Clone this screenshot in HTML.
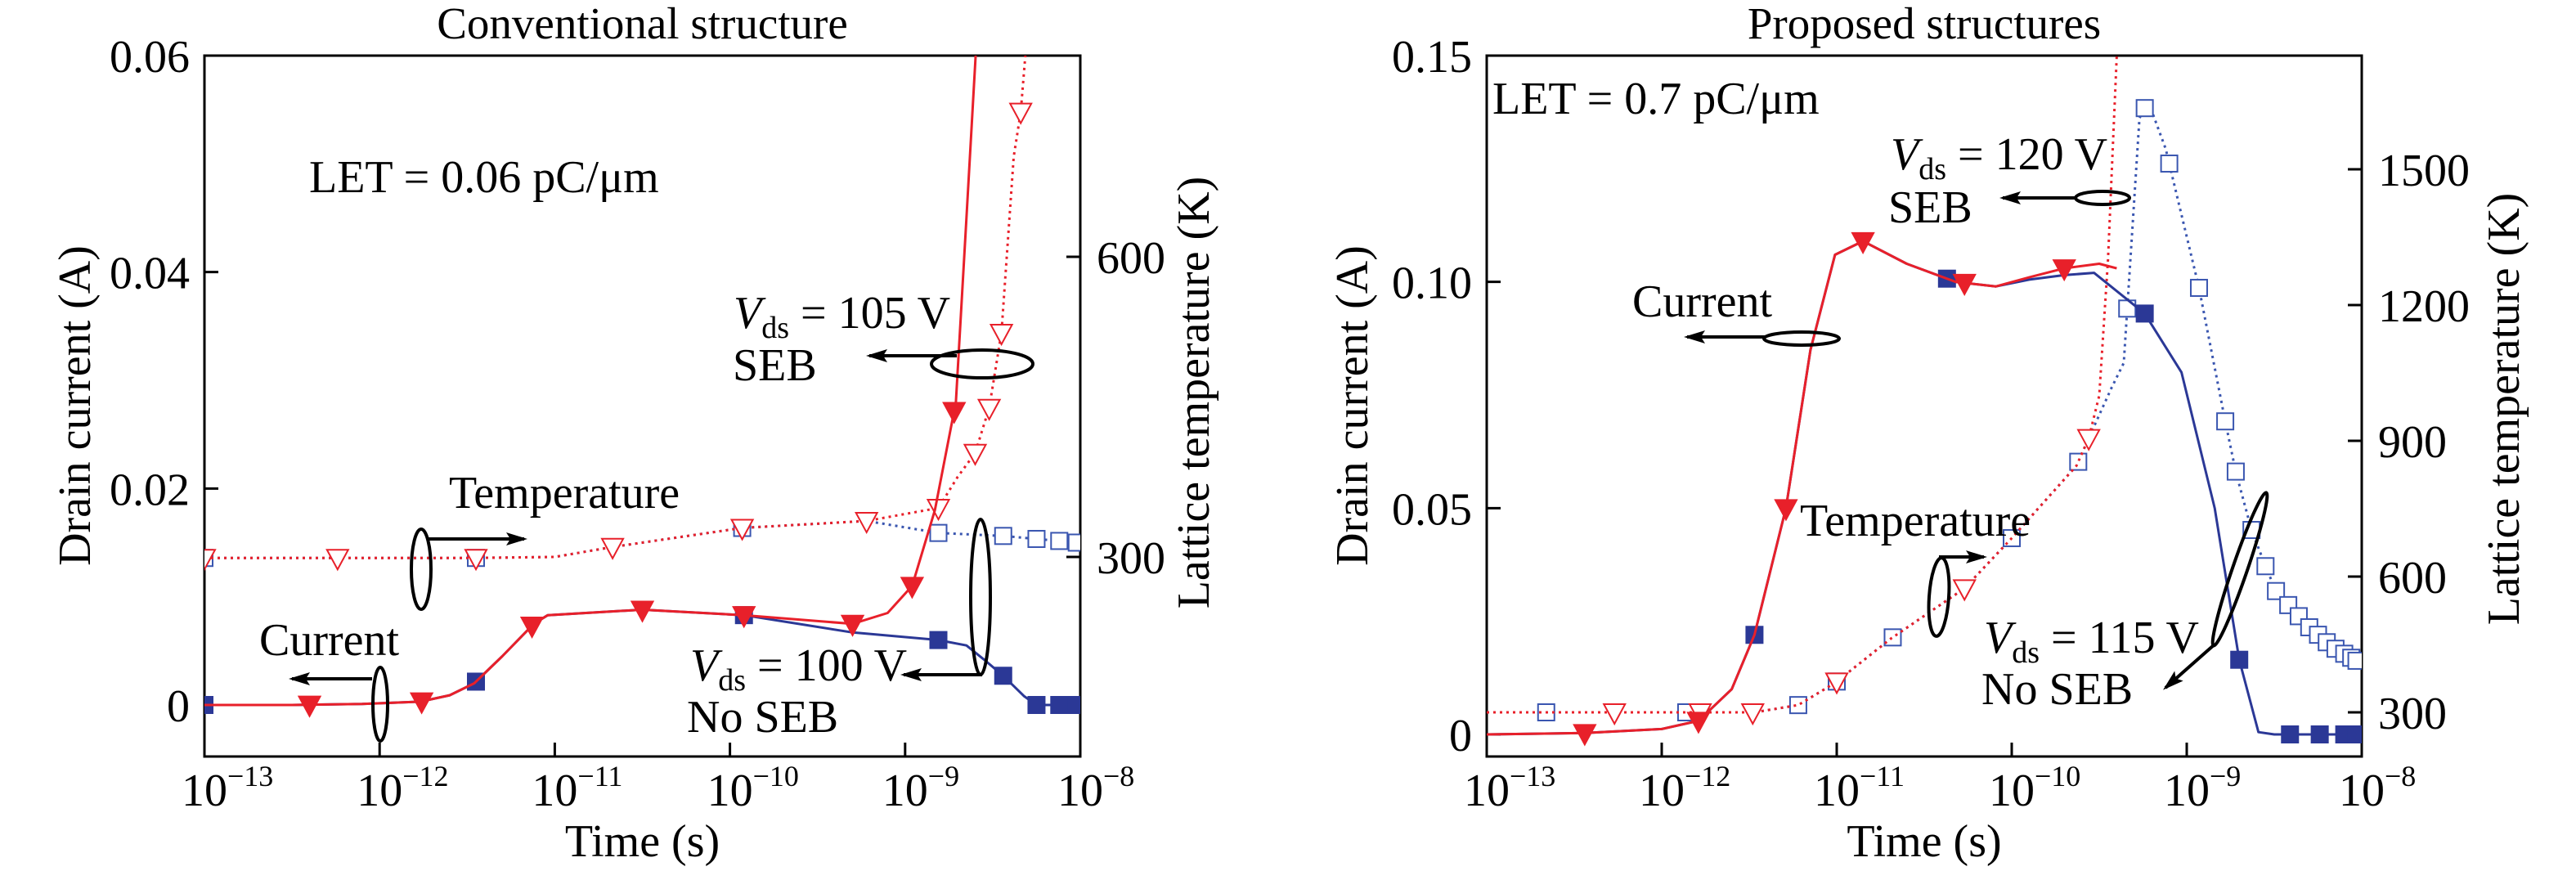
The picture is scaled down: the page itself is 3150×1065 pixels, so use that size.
<!DOCTYPE html>
<html><head><meta charset="utf-8">
<style>
html,body{margin:0;padding:0;background:#fff;}
svg{display:block;font-family:"Liberation Serif",serif;}
</style></head>
<body>
<svg id="chart" width="3150" height="1065" viewBox="0 0 3150 1065" xmlns="http://www.w3.org/2000/svg">
<defs>
<clipPath id="clipL"><rect x="250" y="68" width="1071" height="857"/></clipPath>
<clipPath id="clipR"><rect x="1818" y="68" width="1070" height="857"/></clipPath>
<marker id="ah" markerWidth="26" markerHeight="16" refX="22" refY="8" orient="auto" markerUnits="userSpaceOnUse"><path d="M0,0 L26,8 L0,16 L5,8 Z" fill="#000"/></marker>
</defs>
<g id="root"></g>
</svg>
<script>
// ---------- Left panel data (log10 time, current A / temperature K) ----------
const leftSebCurT = [-13,-12.5,-12.1,-11.77,-11.6,-11.46,-11.3,-11.12,-11.04,-10.5,-9.92,-9.3,-9.1,-8.96,-8.83,-8.71,-8.65,-8.58];
const leftSebCurV = [0,0,0.0001,0.0003,0.0009,0.002,0.0045,0.0075,0.0083,0.0088,0.0083,0.0075,0.0085,0.011,0.018,0.028,0.045,0.065];
const leftSebCurMk = [-12.4,-11.76,-11.13,-10.5,-9.92,-9.3,-8.96,-8.72];
const leftNoCurT = [-13,-12.5,-12.1,-11.77,-11.6,-11.46,-11.3,-11.12,-11.04,-10.5,-9.92,-9.3,-8.81,-8.65,-8.55,-8.44,-8.32,-8.25,-8];
const leftNoCurV = [0,0,0.0001,0.0003,0.0009,0.002,0.0045,0.0075,0.0083,0.0088,0.0083,0.0067,0.006,0.0055,0.0042,0.0027,0.0008,0,0];
const leftNoCurMk = [-13,-11.45,-9.92,-8.81,-8.44,-8.25,-8.12,-8.03];
const leftSebTmpT = [-13,-11.46,-11,-10.67,-9.93,-9.22,-8.81,-8.7,-8.6,-8.52,-8.45,-8.38,-8.34,-8.3];
const leftSebTmpK = [299,299,300,310,329,336,349,380,404,449,524,700,745,830];
const leftSebTmpMk = [-13,-12.24,-11.45,-10.67,-9.93,-9.22,-8.81,-8.6,-8.52,-8.45,-8.34];
const leftNoTmpT = [-13,-11.46,-11,-10.67,-9.93,-9.22,-8.81,-8.44,-8.25,-8.12,-8];
const leftNoTmpK = [299,299,300,310,329,336,324,321,318,316,314];
const leftNoTmpMk = [-13,-11.45,-9.93,-8.81,-8.44,-8.25,-8.12,-8.02];
// ---------- Right panel data ----------
const rightSebCurT = [-13,-12.44,-12.0,-11.79,-11.6,-11.47,-11.29,-11.15,-11.01,-10.85,-10.6,-10.32,-10.09,-9.9,-9.7,-9.5,-9.4];
const rightSebCurV = [0,0.0003,0.0012,0.003,0.01,0.022,0.05,0.085,0.106,0.109,0.104,0.1,0.099,0.101,0.103,0.104,0.103];
const rightSebCurMk = [-12.44,-11.79,-11.29,-10.85,-10.27,-9.7];
const rightNoCurT = [-13,-12.44,-12.0,-11.79,-11.6,-11.47,-11.29,-11.15,-11.01,-10.85,-10.6,-10.32,-10.09,-9.9,-9.7,-9.53,-9.24,-9.03,-8.84,-8.7,-8.59,-8.5,-8];
const rightNoCurV = [0,0.0003,0.0012,0.003,0.01,0.022,0.05,0.085,0.106,0.109,0.104,0.1,0.099,0.1005,0.1015,0.102,0.093,0.08,0.05,0.0165,0.0005,0,0];
const rightNoCurMk = [-11.47,-10.37,-9.24,-8.7,-8.41,-8.24,-8.1,-8.03];
const rightSebTmpT = [-13,-11.47,-11.22,-11.01,-10.69,-10.27,-10.0,-9.63,-9.56,-9.5,-9.45,-9.4];
const rightSebTmpK = [300,300,316,365,463,574,685,845,906,1000,1300,1750];
const rightSebTmpMk = [-12.27,-11.78,-11.48,-11.0,-10.27,-9.56];
const rightNoTmpT = [-13,-11.47,-11.22,-11.01,-10.69,-10.27,-10.0,-9.63,-9.56,-9.43,-9.36,-9.27,-9.22,-9.12,-8.93,-8.78,-8.72,-8.63,-8.55,-8.49,-8.42,-8.3,-8.17,-8.03];
const rightNoTmpK = [300,300,316,365,463,574,685,845,906,1017,1072,1613,1650,1545,1238,943,832,703,623,568,537,488,445,414];
const rightNoTmpMk = [-12.66,-11.86,-11.22,-11.0,-10.68,-10.0,-9.62,-9.34,-9.24,-9.1,-8.93,-8.78,-8.72,-8.63,-8.55,-8.49,-8.42,-8.36,-8.3,-8.25,-8.2,-8.15,-8.1,-8.06,-8.03];
// tick labels
const xTickExp = [-13,-12,-11,-10,-9,-8];
const leftCurTicks = [0,0.02,0.04,0.06];
const leftCurLabels = ["0","0.02","0.04","0.06"];
const leftTmpTicks = [300,600];
const rightCurTicks = [0,0.05,0.10,0.15];
const rightCurLabels = ["0","0.05","0.10","0.15"];
const rightTmpTicks = [300,600,900,1200,1500];

const NS="http://www.w3.org/2000/svg";
const FS=56;
const root=document.getElementById('root');
function mk(tag,attrs,parent){const e=document.createElementNS(NS,tag);for(const k in attrs)e.setAttribute(k,attrs[k]);(parent||root).appendChild(e);return e;}
function interp(T,V,t){for(let i=0;i<T.length-1;i++){if(t>=T[i]&&t<=T[i+1]){const f=(t-T[i])/(T[i+1]-T[i]);return V[i]+f*(V[i+1]-V[i]);}}return t<T[0]?V[0]:V[V.length-1];}

function panel(P){
  const x=t=>P.x0+(t+13)/5*(P.x1-P.x0);
  const yc=v=>P.yc0-v*P.ycs;
  const yt=k=>P.yt0-(k-300)*P.yts;
  const g=mk('g',{});
  
  
  const fr=mk('rect',{x:P.x0,y:68,width:P.x1-P.x0,height:857,fill:'none',stroke:'#000','stroke-width':3},g);
  
  
  xTickExp.forEach(e=>{
    const tx=x(e);
    if(e>-13&&e<-8){const l=mk('line',{x1:tx,y1:925,x2:tx,y2:908,stroke:'#000','stroke-width':3},g);
      
      }
    const tt=mk('text',{x:tx-28,y:985,'font-size':FS},g);
    
    
    tt.textContent='10';
    const sp=mk('tspan',{dy:-24,'font-size':36},tt);sp.textContent='\u2212'+(-e);
  });
  P.curTicks.forEach((v,i)=>{
    const ty=yc(v);
    const l=mk('line',{x1:P.x0,y1:ty,x2:P.x0+17,y2:ty,stroke:'#000','stroke-width':3},g);
    
    
    const t=mk('text',{x:P.x0-18,y:ty+20,'font-size':FS,'text-anchor':'end'},g);
    
    
    t.textContent=P.curLabels[i];
  });
  P.tmpTicks.forEach(k=>{
    const ty=yt(k);
    const l=mk('line',{x1:P.x1,y1:ty,x2:P.x1-17,y2:ty,stroke:'#000','stroke-width':3},g);
    
    
    const t=mk('text',{x:P.x1+20,y:ty+20,'font-size':FS},g);
    
    
    t.textContent=String(k);
  });
  const ti=mk('text',{x:(P.x0+P.x1)/2,y:47,'font-size':55,'text-anchor':'middle'},g);
  
  
  ti.textContent=P.title;
  const xt=mk('text',{x:(P.x0+P.x1)/2,y:1047,'font-size':FS,'text-anchor':'middle'},g);
  
  
  xt.textContent='Time (s)';
  const yti=mk('text',{x:P.ytx,y:496,'font-size':FS,'text-anchor':'middle',transform:`rotate(-90 ${P.ytx} 496)`},g);
  
  
  yti.textContent='Drain current (A)';
  const y2t=mk('text',{x:P.y2tx,y:P.y2ty,'font-size':FS,'text-anchor':'middle',transform:`rotate(-90 ${P.y2tx} ${P.y2ty})`},g);
  
  
  y2t.textContent='Lattice temperature (K)';
  const cg=mk('g',{'clip-path':`url(#${P.clip})`},g);
  function series(name,T,V,yf,col,dotted,Mk,mtype){
    const sg=mk('g',{},cg);
    
    
    const pts=T.map((t,i)=>x(t).toFixed(1)+','+yf(V[i]).toFixed(1)).join(' ');
    const pl=mk('polyline',{points:pts,fill:'none',stroke:col,'stroke-width':3,'stroke-linejoin':'round'},sg);
    if(dotted)pl.setAttribute('stroke-dasharray','3 5');
    
    
    Mk.forEach(t=>{
      const px=x(t),py=yf(interp(T,V,t));
      let m;
      if(mtype==='tri'||mtype==='otri'){
        m=mk('path',{d:`M${px-13},${py-10} L${px+13},${py-10} L${px},${py+14} Z`,fill:mtype==='tri'?col:'#fff',stroke:col,'stroke-width':2},sg);
      }else{
        m=mk('rect',{x:px-10,y:py-10,width:20,height:20,fill:mtype==='sq'?col:'#fff',stroke:col,'stroke-width':2},sg);
      }
      
      
    });
  }
  const red='#e8202a',blue='#2b3896',lblue='#3a56b0';
  series('temp-no-seb',P.d.noTT,P.d.noTK,yt,lblue,true,P.d.noTM,'osq');
  series('temp-seb',P.d.sebTT,P.d.sebTK,yt,red,true,P.d.sebTM,'otri');
  series('current-no-seb',P.d.noCT,P.d.noCV,yc,blue,false,P.d.noCM,'sq');
  series('current-seb',P.d.sebCT,P.d.sebCV,yc,red,false,P.d.sebCM,'tri');
  return g;
}

panel({name:'conventional-panel',title:'Conventional structure',x0:250,x1:1321,yc0:862,ycs:(862-68)/0.06,yt0:681,yts:367/300,
  curTicks:leftCurTicks,curLabels:leftCurLabels,tmpTicks:leftTmpTicks,clip:'clipL',ytx:110,y2tx:1478,y2ty:480,
  d:{sebCT:leftSebCurT,sebCV:leftSebCurV,sebCM:leftSebCurMk,noCT:leftNoCurT,noCV:leftNoCurV,noCM:leftNoCurMk,
     sebTT:leftSebTmpT,sebTK:leftSebTmpK,sebTM:leftSebTmpMk,noTT:leftNoTmpT,noTK:leftNoTmpK,noTM:leftNoTmpMk}});
panel({name:'proposed-panel',title:'Proposed structures',x0:1818,x1:2888,yc0:898,ycs:(898-68)/0.15,yt0:871,yts:166/300,
  curTicks:rightCurTicks,curLabels:rightCurLabels,tmpTicks:rightTmpTicks,clip:'clipR',ytx:1672,y2tx:3080,y2ty:500,
  d:{sebCT:rightSebCurT,sebCV:rightSebCurV,sebCM:rightSebCurMk,noCT:rightNoCurT,noCV:rightNoCurV,noCM:rightNoCurMk,
     sebTT:rightSebTmpT,sebTK:rightSebTmpK,sebTM:rightSebTmpMk,noTT:rightNoTmpT,noTK:rightNoTmpK,noTM:rightNoTmpMk}});

// ---------- annotations ----------
function txt(name,x,y,s){const t=mk('text',{x:x,y:y,'font-size':FS});
  
  
  t.textContent=s;return t;}
function vds(name,x,y,s){const t=mk('text',{x:x,y:y,'font-size':FS});
  
  
  const a=mk('tspan',{'font-style':'italic'},t);a.textContent='V';
  const b=mk('tspan',{'font-size':38,dy:12},t);b.textContent='ds';
  const c=mk('tspan',{dy:-12},t);c.textContent=' = '+s;return t;}
function arrow(name,x1,y1,x2,y2){const l=mk('line',{x1:x1,y1:y1,x2:x2,y2:y2,stroke:'#000','stroke-width':4,'marker-end':'url(#ah)'});
  
  }
function ell(name,cx,cy,rx,ry,rot){const e=mk('ellipse',{cx:cx,cy:cy,rx:rx,ry:ry,fill:'none',stroke:'#000','stroke-width':4,transform:`rotate(${rot||0} ${cx} ${cy})`});
  
  }

// left
txt('let-label-left',378,235,'LET = 0.06 pC/\u03bcm');
txt('temperature-label-left',549,621,'Temperature');
arrow('temperature-arrow-left',522,659,641,659);
ell('temperature-ellipse-left',515,696,12,49);
txt('current-label-left',317,801,'Current');
arrow('current-arrow-left',455,830,357,830);
ell('current-ellipse-left',465,861,9,45);
vds('vds-105-label',897,401,'105 V');
txt('seb-label-left',896,465,'SEB');
arrow('seb-arrow-left',1170,435,1063,435);
ell('seb-ellipse-left',1201,445,62,17);
vds('vds-100-label',844,832,'100 V');
txt('no-seb-label-left',840,895,'No SEB');
arrow('no-seb-arrow-left',1201,825,1105,825);
ell('no-seb-ellipse-left',1199,730,12,95);
// right
txt('let-label-right',1825,139,'LET = 0.7 pC/\u03bcm');
vds('vds-120-label',2312,207,'120 V');
txt('seb-label-right',2309,272,'SEB');
arrow('seb-arrow-right',2540,242,2449,242);
ell('seb-ellipse-right',2571,242,33,8);
txt('current-label-right',1996,387,'Current');
arrow('current-arrow-right',2159,412,2063,412);
ell('current-ellipse-right',2203,414,46,8);
txt('temperature-label-right',2201,655,'Temperature');
arrow('temperature-arrow-right',2371,681,2426,681);
ell('temperature-ellipse-right',2371,730,12,48,4);
vds('vds-115-label',2426,798,'115 V');
txt('no-seb-label-right',2423,861,'No SEB');
ell('no-seb-ellipse-right',2739,696,9,99,19);
arrow('no-seb-arrow-right',2708,788,2648,841);
</script>
</body></html>
